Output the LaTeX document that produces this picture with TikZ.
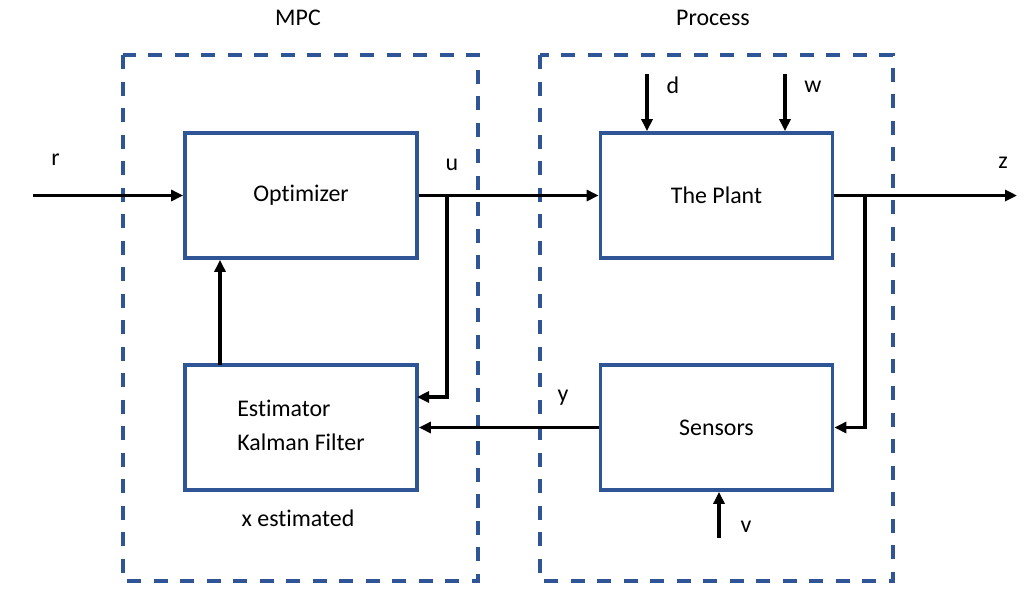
\documentclass[tikz,border=0pt]{standalone}
\usepackage{fontspec}
\setmainfont{Carlito}[Ligatures=NoCommon]
\usetikzlibrary{arrows.meta}
\definecolor{boxblue}{RGB}{47,85,151}

\begin{document}
\begin{tikzpicture}[x=0.2mm, y=-0.2mm, >={Triangle[length=2.4mm, width=2.2mm]},
    font=\fontsize{13.6}{17}\selectfont,
    blk/.style={draw=boxblue, line width=0.75mm, rectangle, minimum width=46.4mm, minimum height=25mm},
    grp/.style={draw=boxblue, line width=0.8mm, dash pattern=on 2.8mm off 2.5mm},
    sig/.style={line width=0.7mm, black}]

\useasboundingbox (0,0) rectangle (1031,602);

    % Kotak putus-putus
    \draw[grp] (123,55) rectangle (478,581);
    \draw[grp] (540,55) rectangle (893,581);
    \node (mpc) at (298,18) {MPC};
    \node (proc) at (713,18) {Process};

    % Blok
    \node[blk] (opt) at (301,195.5) {\raisebox{-0.8mm}{Optimizer}};
    \node[blk] (est) at (301,427.5) {\begin{tabular}{@{}l@{}}Estimator\\[1mm]Kalman Filter\end{tabular}};
    \node[blk] (plant) at (716.5,195.5) {\raisebox{-0.4mm}{The Plant}};
    \node[blk] (sens) at (716.5,427.5) {Sensors};
    \node (xest) at (298,518) {x estimated};

    % Titik bantu
    \coordinate (rin) at (33,195.5);
    \coordinate (zout) at (1017,195.5);
    \coordinate (ub) at (447,195.5);
    \coordinate (ein) at (417,397);
    \coordinate (zb) at (865,195.5);
    \coordinate (eo) at (220,365);
    \coordinate (din) at (647,74);
    \coordinate (win) at (785,74);
    \coordinate (vin) at (719,538);

    % Sinyal
    \draw[sig, ->] (rin) -- (opt.west) node[pos=0.15, above=4.5mm, black] {r};
    \draw[sig, ->] (opt.east) -- (plant.west);
    \node (u) at (452,165) {u};
    \draw[sig, ->] (ub) |- (ein);
    \draw[sig, ->] (eo) -- (opt.south -| eo);
    \draw[sig, ->] (sens.west) -- (est.east);
    \node (y) at (563,398) {y};
    \draw[sig, ->] (plant.east) -- (zout);
    \node (z) at (1003,163) {z};
    \draw[sig, ->] (zb) |- (sens.east);
    \draw[sig, ->] (din) -- (plant.north -| din);
    \node (d) at (673,85) {d};
    \draw[sig, ->] (win) -- (plant.north -| win);
    \node (w) at (813,87) {w};
    \draw[sig, ->] (vin) -- (sens.south -| vin);
    \node (v) at (746,527) {v};

\end{tikzpicture}
\end{document}
